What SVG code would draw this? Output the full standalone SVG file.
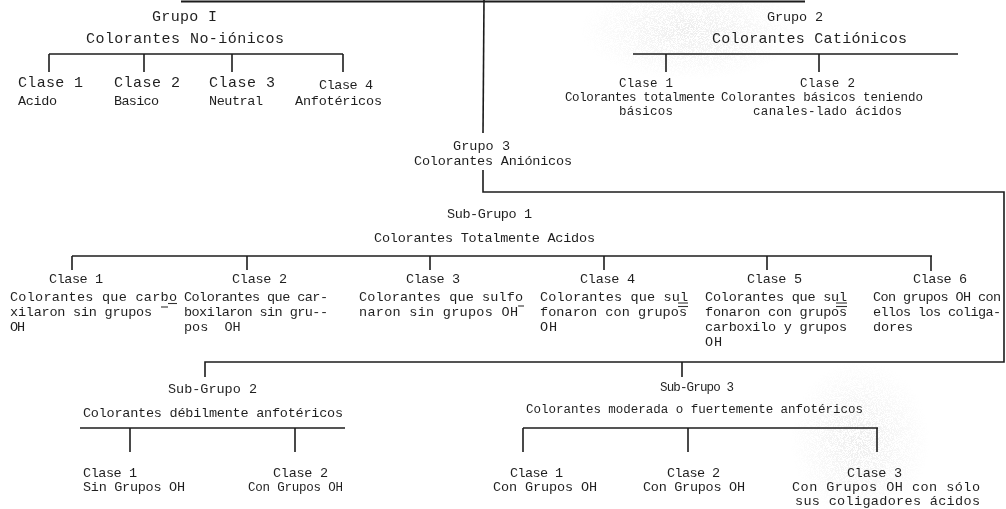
<svg xmlns="http://www.w3.org/2000/svg" width="1006" height="509" viewBox="0 0 1006 509">
<style>
text{font-family:"Liberation Mono","DejaVu Sans Mono",monospace;fill:#1f1f1f;}
.a{font-size:15px;}
.b{font-size:13.5px;}
.c{font-size:12.5px;}
#connectors line,#connectors polyline{stroke:#1c1c1c;stroke-width:1.6;fill:none;}
.m{stroke:#333;stroke-width:1.1;}
</style>
<defs>
<filter id="speck" x="0" y="0" width="1" height="1">
<feTurbulence type="fractalNoise" baseFrequency="1.4" numOctaves="1" seed="3" result="n"/>
<feColorMatrix in="n" type="matrix" values="0 0 0 0 0.55  0 0 0 0 0.55  0 0 0 0 0.55  0 0 0 -14 7.6"/>
</filter>
<radialGradient id="fade"><stop offset="0" stop-color="#fff"/><stop offset="1" stop-color="#000"/></radialGradient>
<mask id="m1"><ellipse cx="690" cy="30" rx="110" ry="50" fill="url(#fade)"/></mask>
<mask id="m2"><ellipse cx="860" cy="440" rx="70" ry="80" fill="url(#fade)"/></mask>
</defs>
<rect width="1006" height="509" fill="#fff"/>
<g opacity="0.3">
<rect x="570" y="0" width="240" height="90" filter="url(#speck)" mask="url(#m1)"/>
<rect x="780" y="350" width="160" height="159" filter="url(#speck)" mask="url(#m2)"/>
</g>

<g id="connectors">
<line x1="181" y1="1.5" x2="805" y2="1.5" style="stroke-width:2"/>
<line x1="484" y1="0" x2="483" y2="133"/>
<polyline points="483,170 483,192 1004,192 1004,362 205,362 205,377"/>
<line x1="682" y1="362" x2="682" y2="377"/>
<line x1="49" y1="54" x2="343" y2="54"/>
<line x1="49" y1="54" x2="49" y2="72"/>
<line x1="144" y1="54" x2="144" y2="72"/>
<line x1="232" y1="54" x2="232" y2="72"/>
<line x1="343" y1="54" x2="343" y2="72"/>
<line x1="633" y1="54" x2="958" y2="54"/>
<line x1="666" y1="54" x2="666" y2="72"/>
<line x1="819" y1="54" x2="819" y2="72"/>
<line x1="72" y1="256" x2="932" y2="256"/>
<line x1="72" y1="256" x2="72" y2="270"/>
<line x1="247" y1="256" x2="247" y2="270"/>
<line x1="430" y1="256" x2="430" y2="270"/>
<line x1="604" y1="256" x2="604" y2="270"/>
<line x1="767" y1="256" x2="767" y2="270"/>
<line x1="931" y1="256" x2="931" y2="271"/>
<line x1="80" y1="428" x2="345" y2="428"/>
<line x1="130" y1="428" x2="130" y2="452"/>
<line x1="295" y1="428" x2="295" y2="452"/>
<line x1="523" y1="428" x2="878" y2="428"/>
<line x1="523" y1="428" x2="523" y2="452"/>
<line x1="688" y1="428" x2="688" y2="452"/>
<line x1="877" y1="428" x2="877" y2="452"/>
</g>

<g id="grupo1">
<text class="a" x="152" y="21" textLength="65" lengthAdjust="spacing">Grupo I</text>
<text class="a" x="86" y="43" textLength="198" lengthAdjust="spacing">Colorantes No-iónicos</text>
</g>
<g id="g1-clase1">
<text class="a" x="18" y="87" textLength="65" lengthAdjust="spacing">Clase 1</text>
<text class="b" x="18" y="105" textLength="39" lengthAdjust="spacing">Acido</text>
</g>
<g id="g1-clase2">
<text class="a" x="114" y="87" textLength="66" lengthAdjust="spacing">Clase 2</text>
<text class="b" x="114" y="105" textLength="45" lengthAdjust="spacing">Basico</text>
</g>
<g id="g1-clase3">
<text class="a" x="209" y="87" textLength="66" lengthAdjust="spacing">Clase 3</text>
<text class="b" x="209" y="105" textLength="54" lengthAdjust="spacing">Neutral</text>
</g>
<g id="g1-clase4">
<text class="b" x="319" y="89" textLength="54" lengthAdjust="spacing">Clase 4</text>
<text class="b" x="295" y="105" textLength="87" lengthAdjust="spacing">Anfotéricos</text>
</g>

<g id="grupo2">
<text class="b" x="767" y="21" textLength="56" lengthAdjust="spacing">Grupo 2</text>
<text class="a" x="712" y="43" textLength="195" lengthAdjust="spacing">Colorantes Catiónicos</text>
</g>
<g id="g2-clase1">
<text class="c" x="619" y="87" textLength="54" lengthAdjust="spacing">Clase 1</text>
<text class="c" x="565" y="101" textLength="150" lengthAdjust="spacing">Colorantes totalmente</text>
<text class="c" x="619" y="115" textLength="54" lengthAdjust="spacing">básicos</text>
</g>
<g id="g2-clase2">
<text class="c" x="800" y="87" textLength="55" lengthAdjust="spacing">Clase 2</text>
<text class="c" x="721" y="101" textLength="202" lengthAdjust="spacing">Colorantes básicos teniendo</text>
<text class="c" x="753" y="115" textLength="149" lengthAdjust="spacing">canales-lado ácidos</text>
</g>

<g id="grupo3">
<text class="b" x="453" y="150" textLength="57" lengthAdjust="spacing">Grupo 3</text>
<text class="b" x="414" y="165" textLength="158" lengthAdjust="spacing">Colorantes Aniónicos</text>
</g>
<g id="subgrupo1">
<text class="b" x="447" y="218" textLength="85" lengthAdjust="spacing">Sub-Grupo 1</text>
<text class="b" x="374" y="242" textLength="221" lengthAdjust="spacing">Colorantes Totalmente Acidos</text>
</g>
<g id="sg1-clase1">
<text class="b" x="49" y="283" textLength="54" lengthAdjust="spacing">Clase 1</text>
<text class="b" x="10" y="301" textLength="167" lengthAdjust="spacing">Colorantes que carbo</text>
<text class="b" x="10" y="316" textLength="142" lengthAdjust="spacing">xilaron sin grupos</text>
<text class="b" x="10" y="331" textLength="15" lengthAdjust="spacing">OH</text>
<line class="m" x1="168" y1="303.5" x2="177" y2="303.5"/>
<line class="m" x1="161" y1="307" x2="168" y2="307"/>
</g>
<g id="sg1-clase2">
<text class="b" x="232" y="283" textLength="55" lengthAdjust="spacing">Clase 2</text>
<text class="b" x="184" y="301" textLength="144" lengthAdjust="spacing">Colorantes que car-</text>
<text class="b" x="184" y="316" textLength="144" lengthAdjust="spacing">boxilaron sin gru--</text>
<text class="b" x="184" y="331" xml:space="preserve" style="white-space:pre">pos  OH</text>
</g>
<g id="sg1-clase3">
<text class="b" x="406" y="283" textLength="54" lengthAdjust="spacing">Clase 3</text>
<text class="b" x="359" y="301" textLength="164" lengthAdjust="spacing">Colorantes que sulfo</text>
<text class="b" x="359" y="316" textLength="159" lengthAdjust="spacing">naron sin grupos OH</text>
<line class="m" x1="518" y1="306" x2="524" y2="306"/>
</g>
<g id="sg1-clase4">
<text class="b" x="580" y="283" textLength="55" lengthAdjust="spacing">Clase 4</text>
<text class="b" x="540" y="301" textLength="148" lengthAdjust="spacing">Colorantes que sul</text>
<text class="b" x="540" y="316" textLength="147" lengthAdjust="spacing">fonaron con grupos</text>
<text class="b" x="540" y="331" textLength="17" lengthAdjust="spacing">OH</text>
<line class="m" x1="678" y1="303" x2="688" y2="303"/>
<line class="m" x1="678" y1="306.5" x2="688" y2="306.5"/>
</g>
<g id="sg1-clase5">
<text class="b" x="747" y="283" textLength="55" lengthAdjust="spacing">Clase 5</text>
<text class="b" x="705" y="301" textLength="142" lengthAdjust="spacing">Colorantes que sul</text>
<text class="b" x="705" y="316" textLength="142" lengthAdjust="spacing">fonaron con grupos</text>
<text class="b" x="705" y="331" textLength="142" lengthAdjust="spacing">carboxilo y grupos</text>
<text class="b" x="705" y="346" textLength="17" lengthAdjust="spacing">OH</text>
<line class="m" x1="836" y1="303" x2="847" y2="303"/>
<line class="m" x1="836" y1="306.5" x2="847" y2="306.5"/>
</g>
<g id="sg1-clase6">
<text class="b" x="913" y="283" textLength="54" lengthAdjust="spacing">Clase 6</text>
<text class="b" x="873" y="301" textLength="128" lengthAdjust="spacing">Con grupos OH con</text>
<text class="b" x="873" y="316" textLength="128" lengthAdjust="spacing">ellos los coliga-</text>
<text class="b" x="873" y="331" textLength="40" lengthAdjust="spacing">dores</text>
</g>

<g id="subgrupo2">
<text class="b" x="168" y="393" textLength="89" lengthAdjust="spacing">Sub-Grupo 2</text>
<text class="b" x="83" y="417" textLength="260" lengthAdjust="spacing">Colorantes débilmente anfotéricos</text>
</g>
<g id="sg2-clase1">
<text class="b" x="83" y="477" textLength="54" lengthAdjust="spacing">Clase 1</text>
<text class="b" x="83" y="491" textLength="102" lengthAdjust="spacing">Sin Grupos OH</text>
</g>
<g id="sg2-clase2">
<text class="b" x="273" y="477" textLength="55" lengthAdjust="spacing">Clase 2</text>
<text class="c" x="248" y="491" textLength="95" lengthAdjust="spacing">Con Grupos OH</text>
</g>

<g id="subgrupo3">
<text class="c" x="660" y="391" textLength="74" lengthAdjust="spacing">Sub-Grupo 3</text>
<text class="c" x="526" y="413" textLength="337" lengthAdjust="spacing">Colorantes moderada o fuertemente anfotéricos</text>
</g>
<g id="sg3-clase1">
<text class="b" x="510" y="477" textLength="53" lengthAdjust="spacing">Clase 1</text>
<text class="b" x="493" y="491" textLength="104" lengthAdjust="spacing">Con Grupos OH</text>
</g>
<g id="sg3-clase2">
<text class="b" x="667" y="477" textLength="53" lengthAdjust="spacing">Clase 2</text>
<text class="b" x="643" y="491" textLength="102" lengthAdjust="spacing">Con Grupos OH</text>
</g>
<g id="sg3-clase3">
<text class="b" x="847" y="477" textLength="55" lengthAdjust="spacing">Clase 3</text>
<text class="b" x="792" y="491" textLength="188" lengthAdjust="spacing">Con Grupos OH con sólo</text>
<text class="b" x="795" y="505" textLength="185" lengthAdjust="spacing">sus coligadores ácidos</text>
</g>
</svg>
